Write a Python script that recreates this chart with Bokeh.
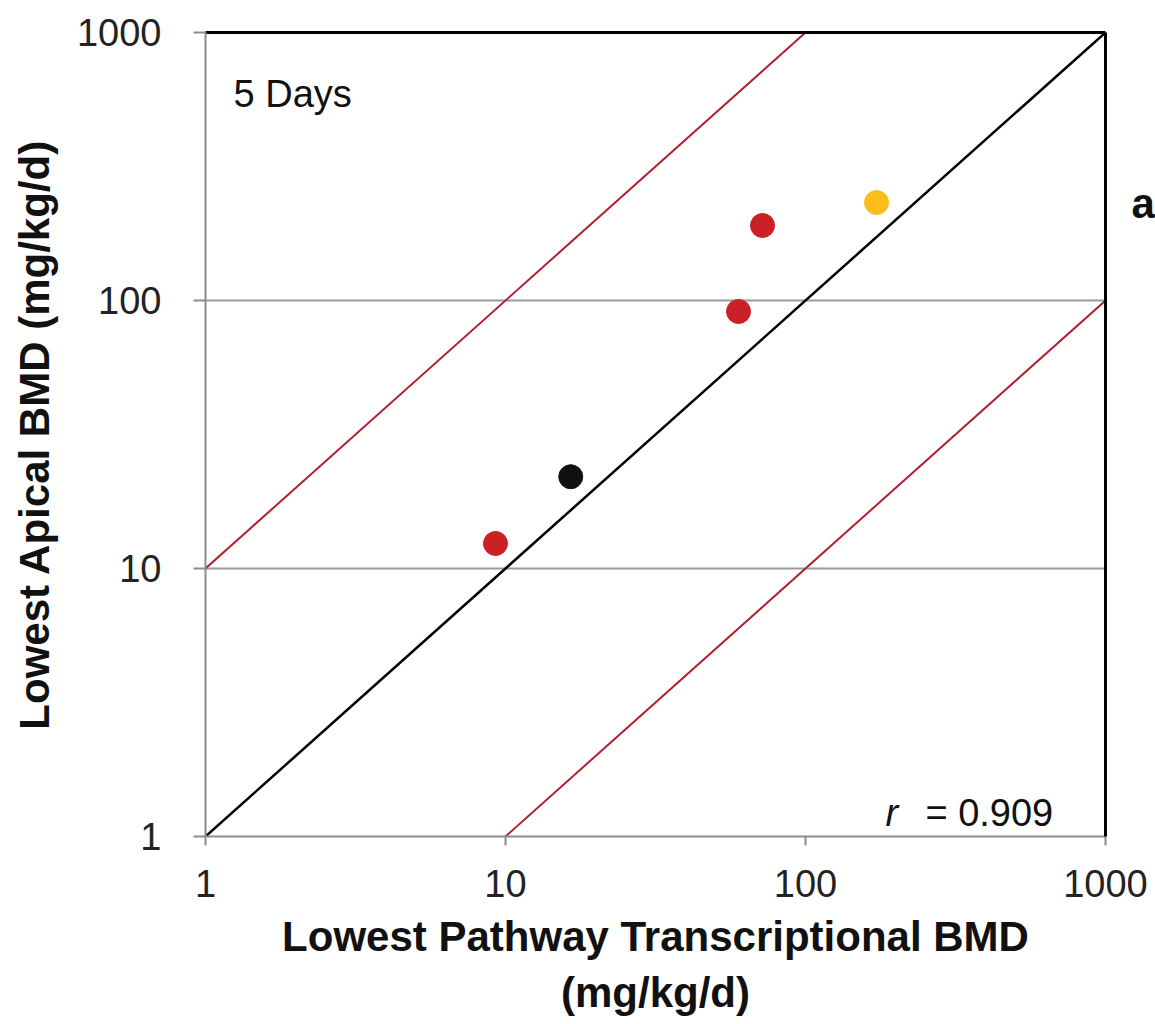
from bokeh.plotting import figure
from bokeh.models import ColumnDataSource, FixedTicker, LogAxis, Label
from bokeh.embed import file_html
from bokeh.resources import INLINE

# ---- data ----
transcriptional_bmd = [9.26, 16.5, 59.8, 71.9, 172.5]
apical_bmd = [12.4, 22.0, 91.0, 190.5, 232.0]
point_colors = ["#cc2027", "#111111", "#cc2027", "#cc2027", "#fbbd17"]

unity_x = [1, 1000]
unity_y = [1, 1000]
upper_x = [1, 100]
upper_y = [10, 1000]
lower_x = [10, 1000]
lower_y = [1, 100]

tick_values = [1, 10, 100, 1000]
tick_labels = ["1", "10", "100", "1000"]
grid_values = [10, 100]
panel_tag_pos = [230]
panel_tag = ["a"]

FONT = "Liberation Sans"

p = figure(
    x_axis_type="log", y_axis_type="log",
    x_range=(1, 1000), y_range=(1, 1000),
    frame_width=900, frame_height=804,
    min_border_left=205, min_border_top=32, min_border_right=10, min_border_bottom=150,
    output_backend="svg", toolbar_location=None,
    background_fill_color="white", border_fill_color="white",
)
p.outline_line_color = None

# axes
for ax, label in ((p.xaxis[0], "Lowest Pathway Transcriptional BMD\n(mg/kg/d)"),
                  (p.yaxis[0], "Lowest Apical BMD (mg/kg/d)")):
    ax.ticker = FixedTicker(ticks=tick_values, minor_ticks=[])
    ax.major_label_overrides = dict(zip(tick_values, tick_labels))
    ax.axis_label = label
    ax.axis_label_text_font = FONT
    ax.axis_label_text_font_style = "bold"
    ax.axis_label_text_font_size = "42px"
    ax.axis_label_text_color = "#111111"
    ax.major_label_text_font = FONT
    ax.major_label_text_font_size = "38px"
    ax.major_label_text_color = "#222222"
    ax.axis_line_color = "#8c8c8c"
    ax.axis_line_width = 2
    ax.major_tick_line_color = "#8c8c8c"
    ax.major_tick_line_width = 2
    ax.major_tick_in = 0
    ax.minor_tick_line_color = None

p.xaxis[0].major_tick_out = 9
p.xaxis[0].major_label_standoff = 24
p.xaxis[0].axis_label_standoff = 13
p.yaxis[0].major_tick_out = 12
p.yaxis[0].major_label_standoff = 32
p.yaxis[0].axis_label_standoff = 16

# black top border
top = LogAxis(ticker=FixedTicker(ticks=[], minor_ticks=[]),
              axis_line_color="black", axis_line_width=3,
              major_tick_line_color=None, minor_tick_line_color=None,
              major_label_text_font_size="0px")
p.add_layout(top, "above")

# black right border carrying the panel tag "a"
right = LogAxis(ticker=FixedTicker(ticks=panel_tag_pos, minor_ticks=[]),
                major_label_overrides=dict(zip(panel_tag_pos, panel_tag)),
                axis_line_color="black", axis_line_width=3,
                major_tick_line_color=None, minor_tick_line_color=None,
                major_tick_out=0, major_tick_in=0,
                major_label_standoff=26,
                major_label_text_font=FONT, major_label_text_font_size="42px",
                major_label_text_font_style="bold", major_label_text_color="#111111")
p.add_layout(right, "right")

# grid
p.xgrid.grid_line_color = None
p.ygrid.ticker = FixedTicker(ticks=grid_values, minor_ticks=[])
p.ygrid.grid_line_color = "#9a9a9a"
p.ygrid.grid_line_width = 2

# reference lines
p.line(upper_x, upper_y, line_color="#b0202e", line_width=2)
p.line(lower_x, lower_y, line_color="#b0202e", line_width=2)
p.line(unity_x, unity_y, line_color="black", line_width=2.5)

src = ColumnDataSource(dict(x=transcriptional_bmd, y=apical_bmd, c=point_colors))
p.scatter("x", "y", source=src, size=24, fill_color="c", line_color="c", line_width=1)

# annotations
p.add_layout(Label(x=1.24, y=592, text="5 Days", text_font=FONT, text_font_size="38px",
                   text_color="#111111", text_baseline="alphabetic"))
p.add_layout(Label(x=184.8, y=1.229, text="r", text_font=FONT, text_font_size="38px",
                   text_font_style="italic", text_color="#111111", text_baseline="alphabetic"))
p.add_layout(Label(x=251, y=1.229, text="= 0.909", text_font=FONT, text_font_size="38px",
                   text_color="#111111", text_baseline="alphabetic"))

open("out.html", "w").write(file_html(p, INLINE))
